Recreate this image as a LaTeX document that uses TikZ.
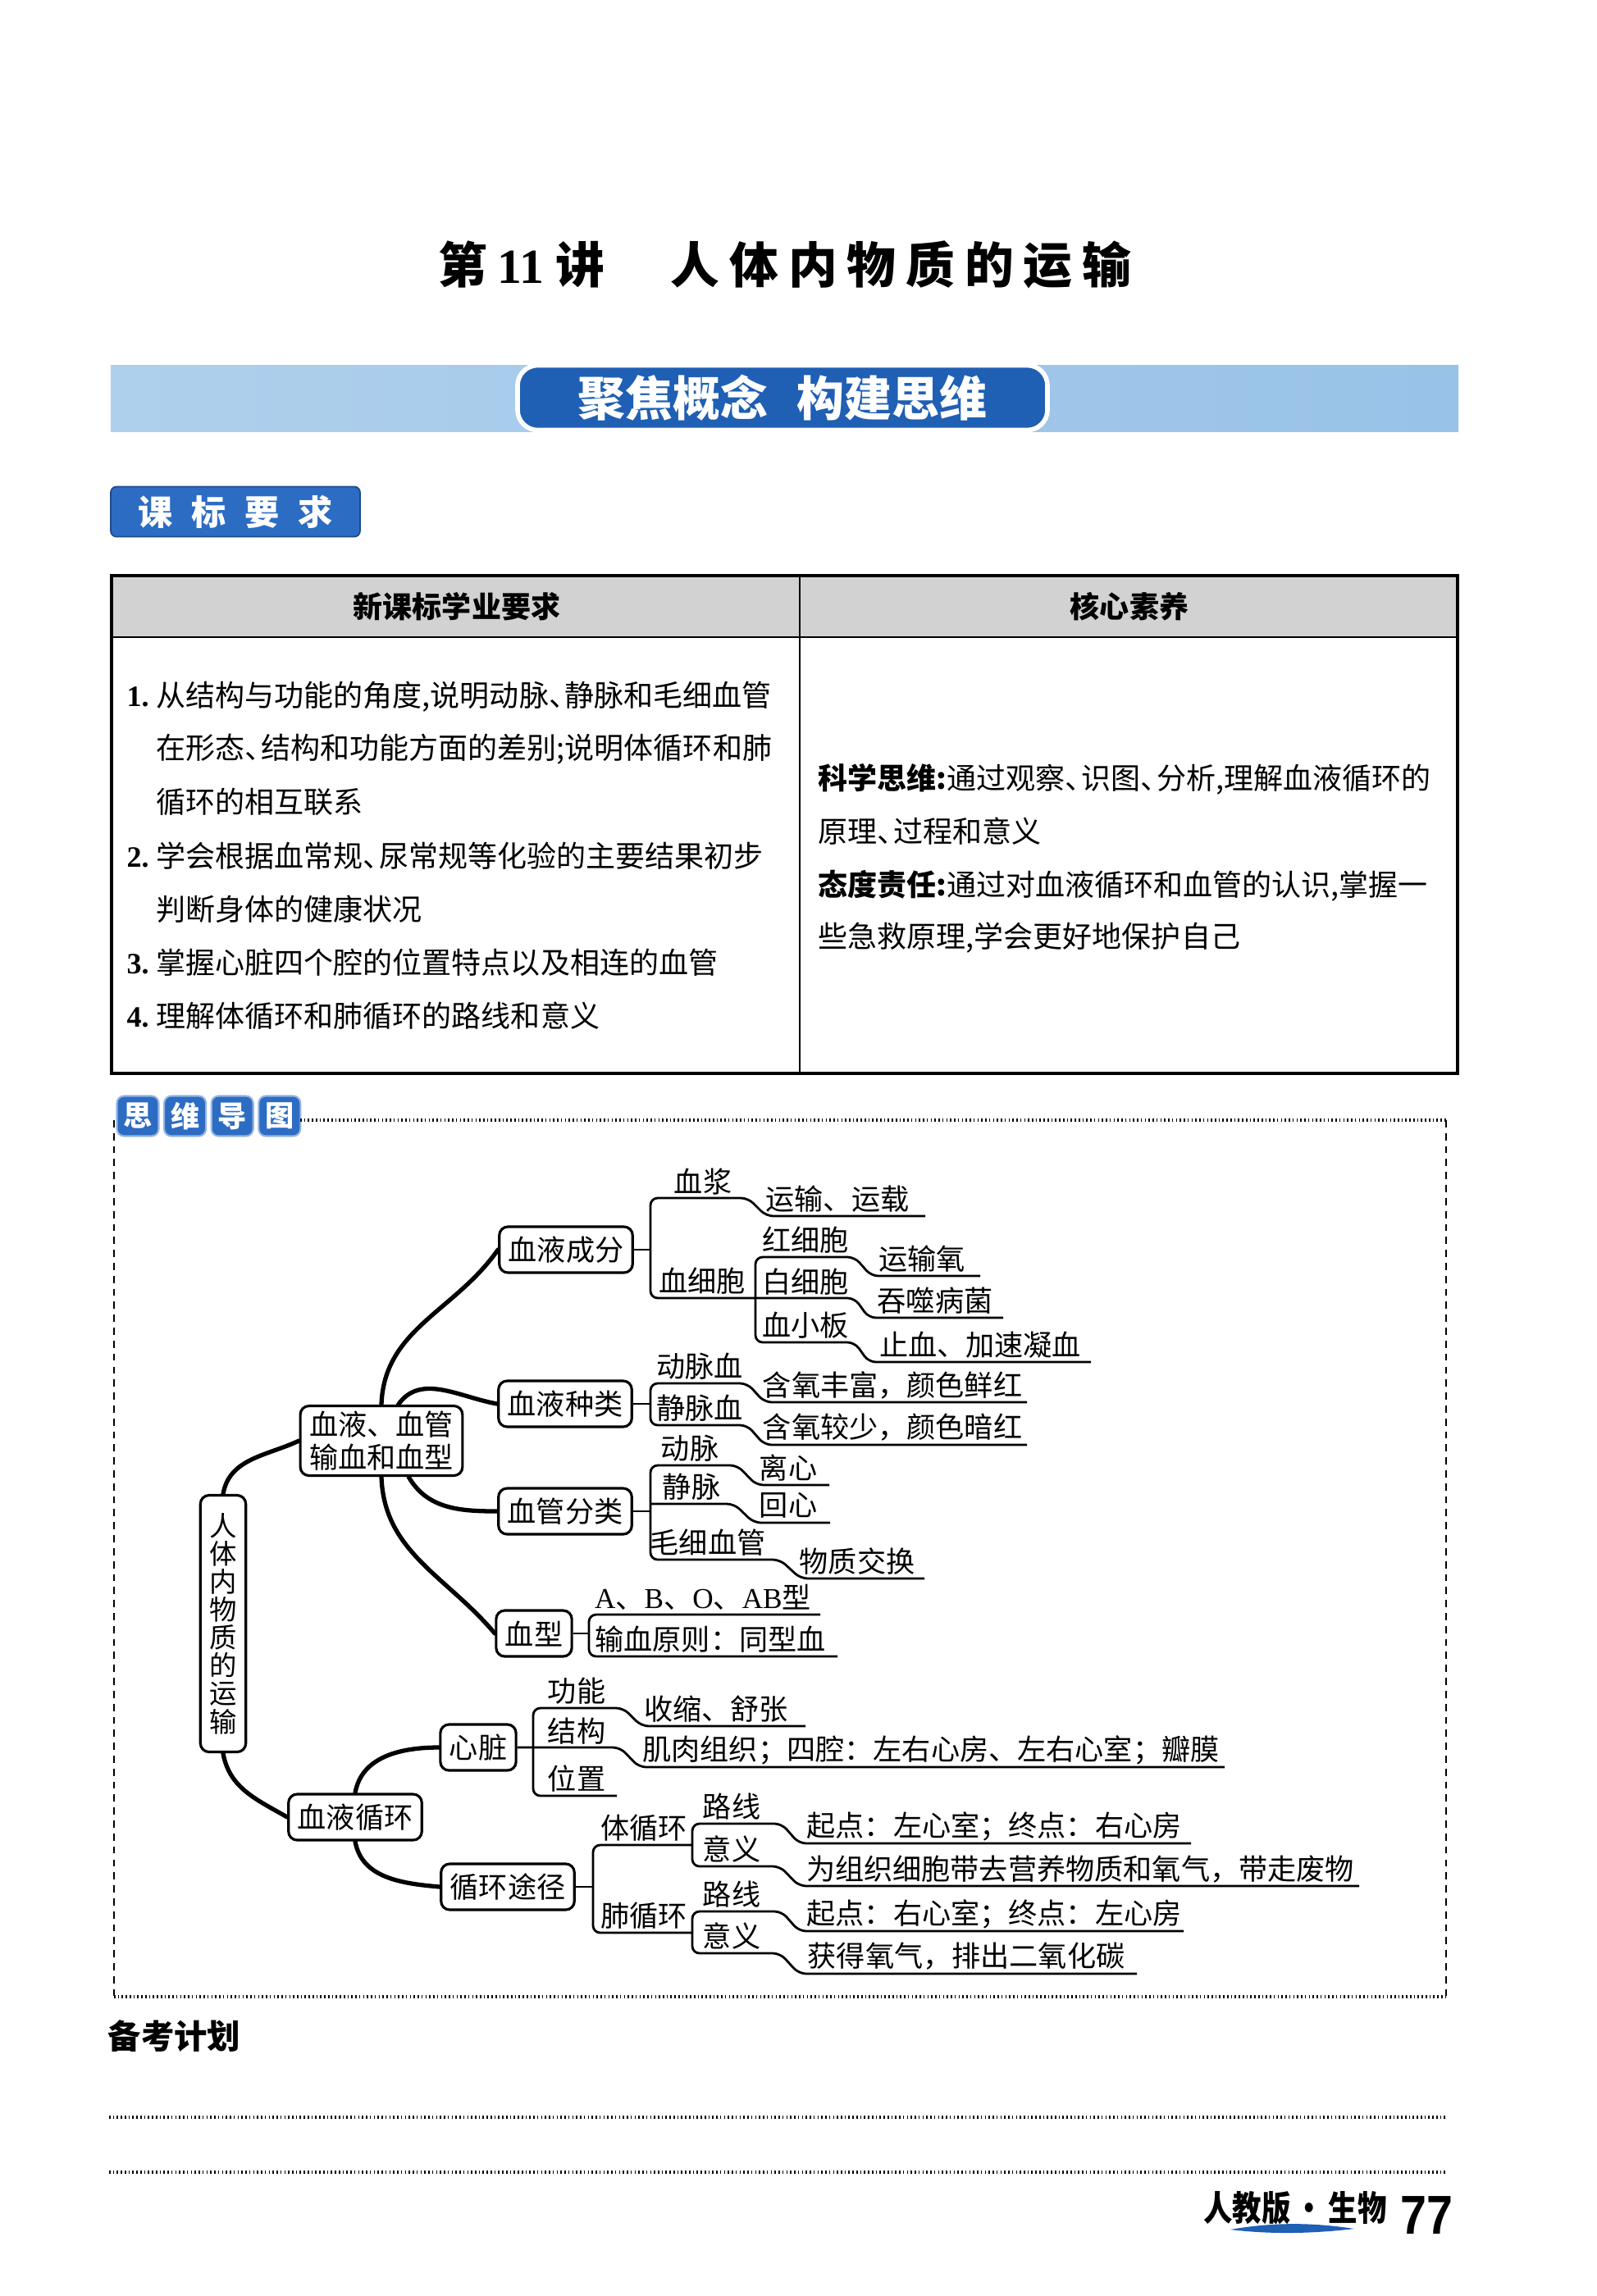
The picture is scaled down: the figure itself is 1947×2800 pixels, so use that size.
\documentclass[tikz,border=0pt]{standalone}
\usepackage{fontspec}
\setmainfont{Noto Sans CJK SC}
\newfontfamily\serifL{Liberation Serif}
\newfontfamily\sansL{Liberation Sans}
\newfontfamily\titlefont[LetterSpace=20]{Noto Sans CJK SC}
\usetikzlibrary{positioning}
\definecolor{BannerBlue}{HTML}{AFD0EC}
\definecolor{BannerDeep}{HTML}{98C2E8}
\definecolor{PillBlue}{HTML}{1F5FB4}
\definecolor{TabBlue}{HTML}{2C6CC3}
\definecolor{HeadGray}{HTML}{D2D2D2}
\newcommand{\mapfont}{\fontsize{10pt}{11.4pt}\selectfont}
\newcommand{\rowfont}{\fontsize{10.25pt}{12pt}\selectfont}
\newcommand{\dun}{\makebox[0.55em][l]{、}}

\begin{document}
\begin{tikzpicture}[x=0.1mm,y=-0.1mm,
    every node/.style={inner sep=0pt,font=\mapfont},
    topic/.style={draw,fill=white,rounded corners=3pt,line width=0.9pt,
                  inner xsep=1.1mm,minimum height=5.6mm},
    branch/.style={line width=1.5pt,line cap=round},
    twig/.style={line width=0.8pt,rounded corners=2.5pt},
    row/.style={anchor=west,font=\rowfont},
    mindtab/.style={fill=TabBlue,draw=TabBlue!50,line width=0.6pt,
                    rounded corners=2.5pt,minimum width=5.1mm,
                    minimum height=4.9mm,text=white,font=\mapfont\bfseries},
    dotrule/.style={line width=0.9pt,dash pattern=on 0.45pt off 0.9pt},
    dashrule/.style={line width=0.5pt,dash pattern=on 2.5pt off 2pt}]
  \useasboundingbox (0,0) rectangle (1947,2800);
  \fill[white] (0,0) rectangle (1947,2800);

  % title and banner
  \node[font=\titlefont\fontsize{17pt}{20pt}\selectfont\bfseries] (title) at (957,323)
    {第\hspace{1.2mm}{\serifL 11}\hspace{1.5mm}讲\hspace{8mm}人体内物质的运输};
  \shade[left color=BannerBlue,right color=BannerDeep] (135,445) rectangle (1778,526);
  \node[fill=PillBlue,draw=white,line width=1.6pt,rounded corners=7pt,
        minimum width=64.6mm,minimum height=7.9mm,text=white,
        font=\fontsize{16.5pt}{18pt}\selectfont\bfseries] (focus) at (954,485)
    {聚焦概念\hspace{3.5mm}构建思维};
  \node[fill=TabBlue,draw=TabBlue!70!black,line width=0.5pt,rounded corners=2pt,
        minimum width=30.4mm,minimum height=6.1mm,text=white,
        font=\fontsize{12pt}{14pt}\selectfont\bfseries] (kbtab) at (287,624)
    {课\hspace{2.3mm}标\hspace{2.3mm}要\hspace{2.3mm}求};

  % table
  \fill[HeadGray] (136,702) rectangle (1777,777);
  \draw[line width=1.1pt] (136,702) rectangle (1777,1309);
  \draw[line width=0.8pt] (136,777) -- (1777,777);
  \draw[line width=0.6pt] (975,702) -- (975,1309);
  \node[font=\rowfont\bfseries] (headreq) at (557,740) {新课标学业要求};
  \node[font=\rowfont\bfseries] (headcore) at (1377,740) {核心素养};
  \node[row] (reqa) at (154,850) {\makebox[3.6mm][l]{\serifL\bfseries 1.}从结构与功能的角度,说明动脉\dun 静脉和毛细血管};
  \node[row] (reqb) at (190,914) {在形态\dun 结构和功能方面的差别;说明体循环和肺};
  \node[row] (reqc) at (190,978) {循环的相互联系};
  \node[row] (reqd) at (154,1044) {\makebox[3.6mm][l]{\serifL\bfseries 2.}学会根据血常规\dun 尿常规等化验的主要结果初步};
  \node[row] (reqe) at (190,1109) {判断身体的健康状况};
  \node[row] (reqf) at (154,1174) {\makebox[3.6mm][l]{\serifL\bfseries 3.}掌握心脏四个腔的位置特点以及相连的血管};
  \node[row] (reqg) at (154,1239) {\makebox[3.6mm][l]{\serifL\bfseries 4.}理解体循环和肺循环的路线和意义};
  \node[row] (corea) at (997,950) {\textbf{科学思维:}通过观察\dun 识图\dun 分析,理解血液循环的};
  \node[row] (coreb) at (997,1014) {原理\dun 过程和意义};
  \node[row] (corec) at (997,1080) {\textbf{态度责任:}通过对血液循环和血管的认识,掌握一};
  \node[row] (cored) at (997,1144) {些急救原理,学会更好地保护自己};

  % mind map frame
  \node[mindtab] (tabsi) at (168,1361) {思};
  \node[mindtab,right=0.45mm of tabsi] (tabwei) {维};
  \node[mindtab,right=0.45mm of tabwei] (tabdao) {导};
  \node[mindtab,right=0.45mm of tabdao] (tabtu) {图};
  \draw[dotrule] (366,1366) -- (1763,1366);
  \draw[dashrule] (139,1366) -- (139,2435);
  \draw[dashrule] (1763,1366) -- (1763,2435);
  \draw[dotrule] (139,2435) -- (1763,2435);

  % main boxes
  \node[topic,minimum width=5.5mm,minimum height=31.3mm,align=center,
        font=\fontsize{9.5pt}{9.7pt}\selectfont] (root) at (272,1980)
    {人\\体\\内\\物\\质\\的\\运\\输};
  \node[topic,minimum height=8.5mm,align=center,
        font=\fontsize{10pt}{11.4pt}\selectfont] (hub) at (465,1757)
    {血液、血管\\输血和血型};
  \node[topic] (comp) at (690,1524) {血液成分};
  \node[topic] (kind) at (689,1712) {血液种类};
  \node[topic] (vessel) at (689,1843) {血管分类};
  \node[topic] (btype) at (651,1992) {血型};
  \node[topic] (circ) at (433,2216) {血液循环};
  \node[topic] (heart) at (583,2131) {心脏};
  \node[topic] (route) at (619,2301) {循环途径};

  \draw[branch] (root.north) to[out=80,in=-155] (hub.west);
  \draw[branch] (root.south) to[out=-80,in=150] (circ.west);
  \draw[branch] (hub.north) to[out=88,in=-125] (comp.west);
  \draw[branch] (hub.65) to[out=55,in=170] (kind.west);
  \draw[branch] (hub.-53) to[out=-60,in=180] (vessel.west);
  \draw[branch] (hub.south) to[out=-88,in=130] (btype.west);
  \draw[branch] (circ.north) to[out=80,in=180] (heart.west);
  \draw[branch] (circ.south) to[out=-80,in=175] (route.west);

  % blood components
  \node (plasma) at (857,1441) {血浆};
  \node (plasmafn) at (1021,1462) {运输、运载};
  \node (cells) at (856,1562) {血细胞};
  \node (rbc) at (982,1512) {红细胞};
  \node (rbcfn) at (1124,1535) {运输氧};
  \node (wbc) at (982,1563) {白细胞};
  \node (wbcfn) at (1140,1586) {吞噬病菌};
  \node (plt) at (982,1616) {血小板};
  \node (pltfn) at (1195,1640) {止血、加速凝血};
  \draw[twig] (comp.east) -- (793,1524);
  \draw[twig] (1128,1483) -- (934,1483) -- (912,1461) -- (793,1461) -- (793,1583)
    -- (1042,1583) -- (1059,1607) -- (1223,1607);
  \draw[twig] (1195,1556) -- (1062,1556) -- (1042,1533) -- (921,1533) -- (921,1637)
    -- (1042,1637) -- (1059,1661) -- (1330,1661);

  % blood kinds
  \node (artb) at (853,1666) {动脉血};
  \node (artbfn) at (1088,1689) {含氧丰富，颜色鲜红};
  \node (venb) at (853,1717) {静脉血};
  \node (venbfn) at (1088,1741) {含氧较少，颜色暗红};
  \draw[twig] (kind.east) -- (793,1712);
  \draw[twig] (1252,1710) -- (932,1710) -- (911,1687) -- (793,1687) -- (793,1738)
    -- (911,1738) -- (932,1762) -- (1252,1762);

  % vessels
  \node (artery) at (841,1766) {动脉};
  \node (arteryfn) at (961,1790) {离心};
  \node (vein) at (843,1813) {静脉};
  \node (veinfn) at (961,1836) {回心};
  \node (capil) at (863,1881) {毛细血管};
  \node (capilfn) at (1045,1904) {物质交换};
  \draw[twig] (vessel.east) -- (793,1843);
  \draw[twig] (1011,1811) -- (922,1811) -- (899,1787) -- (793,1787) -- (793,1902)
    -- (951,1902) -- (976,1925) -- (1127,1925);
  \draw[twig] (793,1834) -- (895,1834) -- (919,1857) -- (1012,1857);

  % blood types
  \node (abo) at (857,1948) {{\serifL A}、{\serifL B}、{\serifL O}、{\serifL AB}型};
  \node (rule) at (866,1999) {输血原则：同型血};
  \draw[twig] (btype.east) -- (718,1992);
  \draw[twig] (1000,1969) -- (718,1969) -- (718,2020) -- (1021,2020);

  % heart
  \node (hfunc) at (703,2062) {功能};
  \node (hfuncfn) at (873,2084) {收缩、舒张};
  \node (hstruct) at (703,2111) {结构};
  \node (hstructfn) at (1135,2134) {肌肉组织；四腔：左右心房、左右心室；瓣膜};
  \node (hplace) at (703,2169) {位置};
  \draw[twig] (heart.east) -- (756,2131) -- (779,2155) -- (1493,2155);
  \draw[twig] (982,2105) -- (782,2105) -- (760,2083) -- (650,2083) -- (650,2190)
    -- (752,2190);

  % circulation routes
  \node (sys) at (785,2229) {体循环};
  \node (sysway) at (892,2203) {路线};
  \node (syswayfn) at (1212,2227) {起点：左心室；终点：右心房};
  \node (sysmean) at (892,2255) {意义};
  \node (sysmeanfn) at (1317,2279) {为组织细胞带去营养物质和氧气，带走废物};
  \node (pul) at (785,2336) {肺循环};
  \node (pulway) at (892,2310) {路线};
  \node (pulwayfn) at (1212,2334) {起点：右心室；终点：左心房};
  \node (pulmean) at (892,2361) {意义};
  \node (pulmeanfn) at (1178,2386) {获得氧气，排出二氧化碳};
  \draw[twig] (route.east) -- (723,2301);
  \draw[twig] (844,2250) -- (723,2250) -- (723,2357) -- (844,2357);
  \draw[twig] (1452,2248) -- (974,2248) -- (953,2224) -- (844,2224) -- (844,2276)
    -- (951,2276) -- (974,2300) -- (1657,2300);
  \draw[twig] (1443,2355) -- (974,2355) -- (953,2331) -- (844,2331) -- (844,2382)
    -- (951,2382) -- (974,2407) -- (1386,2407);

  % plan and footer
  \node[anchor=west,font=\fontsize{11.5pt}{13pt}\selectfont\bfseries] (plan) at (131,2483) {备考计划};
  \draw[dotrule] (133,2582) -- (1763,2582);
  \draw[dotrule] (133,2649) -- (1763,2649);
  \node[font=\fontsize{12pt}{14pt}\selectfont\bfseries] (edition) at (1579,2693)
    {\scalebox{0.84}[1]{人教版\hspace{0.15em}·\hspace{0.15em}生物}};
  \fill[PillBlue] (1500,2719) .. controls (1550,2710) and (1600,2710) .. (1651,2718)
    .. controls (1600,2724) and (1550,2725) .. (1500,2719);
  \node[font=\sansL\fontsize{19pt}{22pt}\selectfont\bfseries] (pageno) at (1739,2701)
    {\scalebox{0.86}[1]{77}};
\end{tikzpicture}
\end{document}
